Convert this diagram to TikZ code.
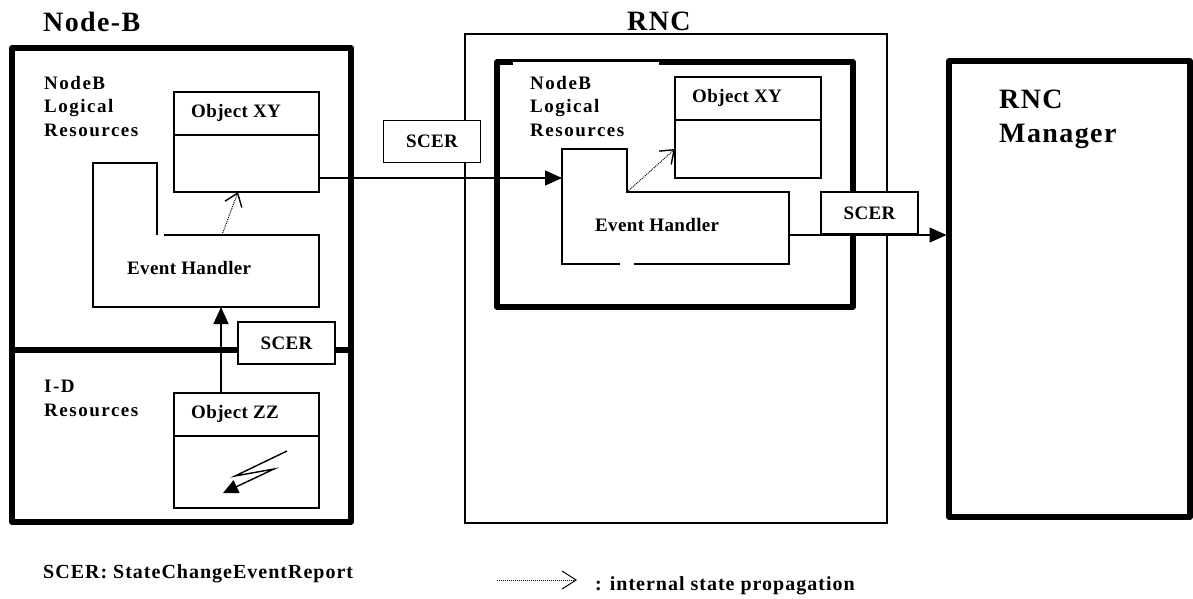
\documentclass[tikz,border=0pt]{standalone}
\usepackage{fontspec}
\setmainfont{Liberation Serif}
\newfontfamily\labfont{Liberation Serif}[LetterSpace=2]
\newfontfamily\multfont{Liberation Serif}[LetterSpace=8]
\newfontfamily\legfont{Liberation Serif}[LetterSpace=5]
\newfontfamily\titfont{Liberation Serif}[LetterSpace=5]
\usetikzlibrary{arrows.meta}
\begin{document}
\begin{tikzpicture}[x=1pt,y=-1pt,
  bigbox/.style={draw, line width=5.5pt, line join=round, inner sep=0pt, outer sep=0pt},
  thinbox/.style={draw, line width=1.4pt, inner sep=0pt, outer sep=0pt},
  lw/.style={line width=1.4pt},
  scerbox/.style={thinbox, fill=white, minimum width=97pt, minimum height=42pt,
    font=\labfont\fontsize{19}{22}\selectfont\bfseries},
  lab/.style={inner sep=0pt, anchor=base west, font=\labfont\fontsize{19}{22}\selectfont\bfseries},
  leglab/.style={inner sep=0pt, anchor=base west, font=\legfont\fontsize{20}{24}\selectfont\bfseries},
  multilab/.style={inner sep=0pt, anchor=north west, align=left,
    font=\multfont\fontsize{19}{23.5}\selectfont\bfseries},
  titlab/.style={inner sep=0pt, anchor=base west, align=left,
    font=\titfont\fontsize{28}{34}\selectfont\bfseries},
  conn/.style={line width=1.4pt, -{Triangle[length=17pt,width=15pt]}},
  prop/.style={line width=1pt, dash pattern=on 1pt off 1pt,
    -{Straight Barb[length=12pt,width=18pt,line width=1.4pt]}}]
\useasboundingbox (0,0) rectangle (1193,598);

% ---------------- Node-B ----------------
\node[titlab] (tNodeB) at (43,31) {Node-B};
\node[bigbox, minimum width=339pt, minimum height=474pt] (nodeb) at (181.5,285) {};
\draw[line width=5.5pt] (nodeb.west |- 0,350) -- (nodeb.east |- 0,350);
\node[multilab] (nbLog) at (44,76) {NodeB\\Logical\\Resources};
\node[multilab] (idRes) at (44,380) {I-D\\Resources};

% Object XY (Node-B)
\node[thinbox, minimum width=145pt, minimum height=100pt] (oxyL) at (246.5,142) {};
\draw[lw] (oxyL.west |- 0,135) -- (oxyL.east |- 0,135);
\node[lab] (oxyLt) at (191,117) {Object XY};

% Event handler (Node-B), L-shape
\draw[lw] (164,235) -- (319,235) -- (319,307) -- (93,307) -- (93,163) -- (157,163) -- (157,235);
\node[lab] (ehLt) at (127,274) {Event Handler};
\coordinate (ehLb) at (221,307);
\coordinate (ehLn) at (222,235);
\coordinate (oxyLb) at (238,192);

% Object ZZ
\node[thinbox, minimum width=145pt, minimum height=115pt] (ozz) at (246.5,450.5) {};
\draw[lw] (ozz.west |- 0,436) -- (ozz.east |- 0,436);
\node[lab] (ozzt) at (191,418) {Object ZZ};
\coordinate (ozzTop) at (221,393);

% lightning
\coordinate (lz1) at (287,451);
\coordinate (lz2) at (235,476);
\coordinate (lz3) at (274,469);
\coordinate (lz4) at (223,493);
\draw[lw, line join=miter, -{Triangle[length=15pt,width=14pt]}] (lz1) -- (lz2) -- (lz3) -- (lz4);

% SCER (Node-B)
\node[scerbox] (scerL) at (286.5,343) {SCER};

% connectors in Node-B
\draw[conn] (ozzTop) -- (ehLb);
\draw[prop] (ehLn) -- (oxyLb);

% ---------------- RNC ----------------
\node[titlab] (tRNC) at (627,30) {RNC};
\node[thinbox, minimum width=422pt, minimum height=489pt] (rnc) at (676,278.5) {};
\node[bigbox, minimum width=356pt, minimum height=245pt] (rncin) at (675,184.5) {};
\fill[white] (513,62.4) rectangle (659,66);
\node[multilab] (rnLog) at (530,76) {NodeB\\Logical\\Resources};

% Object XY (RNC)
\node[thinbox, minimum width=146pt, minimum height=101pt] (oxyR) at (748,127.5) {};
\draw[lw] (oxyR.west |- 0,120) -- (oxyR.east |- 0,120);
\node[lab] (oxyRt) at (692,102) {Object XY};

% Event handler (RNC), L-shape
\draw[lw] (620,264) -- (562,264) -- (562,149) -- (627,149) -- (627,192) -- (789,192) -- (789,264) -- (634,264);
\node[lab] (ehRt) at (595,231) {Event Handler};
\coordinate (ehRw) at (562,178);
\coordinate (ehRe) at (789,235);
\coordinate (ehRn) at (627,192);
\coordinate (oxyRw) at (675,149);

% SCER boxes
\node[scerbox] (scerM) at (432,141.5) {SCER};
\node[scerbox] (scerR) at (869.5,213) {SCER};

% ---------------- RNC Manager ----------------
\node[bigbox, minimum width=241pt, minimum height=456pt] (mgr) at (1069.5,289) {};
\node[titlab] (mgrt) at (999,142) {RNC\\Manager};
\coordinate (mgrIn) at (946.5,235);

% ---------------- connectors ----------------
\coordinate (oxyLe) at (319,178);
\draw[conn] (oxyLe) -- (ehRw);
\draw[prop] (ehRn) -- (oxyRw);
\draw[conn] (ehRe) -- (mgrIn);

% ---------------- legend ----------------
\node[leglab] (leg1) at (43,578) {SCER: StateChangeEventReport};
\coordinate (lgA) at (497,580);
\coordinate (lgB) at (577,580);
\draw[prop, -{Straight Barb[length=14pt,width=18pt,line width=1pt]}] (lgA) -- (lgB);
\node[leglab] (leg2) at (595,590) {: internal state propagation};
\end{tikzpicture}
\end{document}
